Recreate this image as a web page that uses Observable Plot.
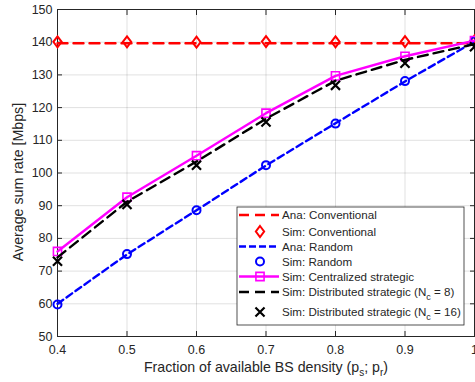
<!DOCTYPE html>
<html>
<head>
<meta charset="utf-8">
<script src="https://cdn.jsdelivr.net/npm/d3@7"></script>
<script src="https://cdn.jsdelivr.net/npm/@observablehq/plot@0.6"></script>
<style>
  html, body { margin: 0; padding: 0; background: #fff; }
  #chart svg { display: block; }
</style>
</head>
<body>
<div id="chart"></div>
<script>
// ---- data ----
const fraction = [0.4, 0.5, 0.6, 0.7, 0.8, 0.9, 1.0];
const anaConventional = [139.7, 139.7, 139.7, 139.7, 139.7, 139.7, 139.7];
const simConventional = [140.1, 140.1, 140.0, 140.2, 140.1, 140.2, 140.4];
const anaRandom = [60.0, 75.1, 88.6, 102.3, 115.2, 128.0, 140.2];
const simRandom = [59.8, 75.2, 88.6, 102.4, 115.1, 128.1, 140.3];
const simCentralized = [76.0, 92.6, 105.3, 118.3, 129.7, 135.7, 140.5];
const simDistributed8 = [74.2, 91.2, 103.5, 116.6, 128.2, 134.6, 139.4];
const simDistributed16 = [73.0, 90.4, 102.4, 115.6, 126.8, 133.6, 138.6];

const xTicks = [0.4, 0.5, 0.6, 0.7, 0.8, 0.9, 1];
const yTicks = [50, 60, 70, 80, 90, 100, 110, 120, 130, 140, 150];
const legendLabels = [
  ["Ana: Conventional"],
  ["Sim: Conventional"],
  ["Ana: Random"],
  ["Sim: Random"],
  ["Sim: Centralized strategic"],
  ["Sim: Distributed strategic (N", "c", " = 8)"],
  ["Sim: Distributed strategic (N", "c", " = 16)"]
];

const tbl = (ys) => fraction.map((x, i) => ({x, y: ys[i]}));

// MATLAB-like diamond (slightly taller than wide)
const diamondM = {
  draw(ctx, size) {
    const h = Math.sqrt(size / 0.375) / 2;
    const w = h * 0.75;
    ctx.moveTo(0, -h); ctx.lineTo(w, 0); ctx.lineTo(0, h); ctx.lineTo(-w, 0); ctx.closePath();
  }
};

const RED = "#ff0000", BLUE = "#0000ff", MAG = "#ff00ff", BLK = "#000000", AX = "#262626";
const FONT = "'Liberation Sans', Arial, Helvetica, sans-serif";

const plot = Plot.plot({
  width: 475,
  height: 382,
  marginLeft: 57,
  marginRight: 1,
  marginTop: 9,
  marginBottom: 46,
  style: {fontFamily: FONT, fontSize: "12.5px", color: AX, background: "#fff"},
  x: {domain: [0.4, 1]},
  y: {domain: [50, 150]},
  marks: [
    Plot.gridX(xTicks, {stroke: "#000", strokeOpacity: 0.12}),
    Plot.gridY(yTicks, {stroke: "#000", strokeOpacity: 0.12}),
    Plot.axisX(xTicks, {tickSize: -5, tickPadding: 13.5, tickFormat: d => String(d), label: null, fontSize: 12.5, stroke: AX}),
    Plot.axisX(xTicks, {anchor: "top", tickSize: -5, tickFormat: () => "", label: null, stroke: AX}),
    Plot.axisY(yTicks, {tickSize: -5, tickPadding: 10, label: null, fontSize: 12.5, stroke: AX}),
    Plot.axisY(yTicks, {anchor: "right", tickSize: -5, tickFormat: () => "", label: null, stroke: AX}),
    Plot.frame({stroke: AX, strokeWidth: 1}),
    // Ana: Conventional
    Plot.line(tbl(anaConventional), {x: "x", y: "y", stroke: RED, strokeWidth: 2.4, strokeDasharray: "10,6"}),
    // Sim: Conventional
    Plot.dot(tbl(simConventional), {x: "x", y: "y", symbol: diamondM, r: 3.8, stroke: RED, strokeWidth: 2, fill: "none"}),
    // Ana: Random
    Plot.line(tbl(anaRandom), {x: "x", y: "y", stroke: BLUE, strokeWidth: 2.4, strokeDasharray: "7,4"}),
    // Sim: Random
    Plot.dot(tbl(simRandom), {x: "x", y: "y", symbol: "circle", r: 4, stroke: BLUE, strokeWidth: 2, fill: "none"}),
    // Sim: Centralized strategic
    Plot.line(tbl(simCentralized), {x: "x", y: "y", stroke: MAG, strokeWidth: 2.4}),
    Plot.dot(tbl(simCentralized), {x: "x", y: "y", symbol: "square", r: 4.6, stroke: MAG, strokeWidth: 1.6, fill: "none"}),
    // Sim: Distributed strategic (Nc = 8)
    Plot.line(tbl(simDistributed8), {x: "x", y: "y", stroke: BLK, strokeWidth: 2.4, strokeDasharray: "10,6"}),
    // Sim: Distributed strategic (Nc = 16)
    Plot.dot(tbl(simDistributed16), {x: "x", y: "y", symbol: "times", r: 4.2, stroke: BLK, strokeWidth: 2.2})
  ]
});

document.getElementById("chart").appendChild(plot);

// ---- axis labels with subscripts ----
const svg = d3.select(plot);
svg.append("text")
  .attr("transform", "translate(23,182) rotate(-90)")
  .attr("text-anchor", "middle")
  .attr("font-family", FONT).attr("font-size", 14.2).attr("fill", AX)
  .text("Average sum rate [Mbps]");

const xl = svg.append("text")
  .attr("x", 266).attr("y", 372)
  .attr("text-anchor", "middle")
  .attr("font-family", FONT).attr("font-size", 14.2).attr("fill", AX);
xl.append("tspan").text("Fraction of available BS density (p");
xl.append("tspan").attr("font-size", 10).attr("dy", 4).text("s");
xl.append("tspan").attr("dy", -4).text("; p");
xl.append("tspan").attr("font-size", 10).attr("dy", 4).text("r");
xl.append("tspan").attr("dy", -4).text(")");

// ---- legend ----
const lg = svg.append("g").attr("text-anchor", "start");
lg.append("rect").attr("x", 237).attr("y", 207).attr("width", 227).attr("height", 118)
  .attr("fill", "#fff").attr("stroke", AX).attr("stroke-width", 0.8);
const rowsY = [215, 231.5, 246.5, 261.5, 276.5, 292, 312];
const lx1 = 239, lx2 = 279, sx = 260, tx = 282;
const sym = (type, r) => d3.symbol().type(type).size(Math.PI * r * r)();
rowsY.forEach((y, i) => {
  const g = lg.append("g");
  if (i === 0) g.append("line").attr("x1", lx1).attr("x2", lx2).attr("y1", y).attr("y2", y)
    .attr("stroke", RED).attr("stroke-width", 2.4).attr("stroke-dasharray", "10,6");
  if (i === 1) g.append("path").attr("d", sym(diamondM, 3.8)).attr("transform", `translate(${sx},${y})`)
    .attr("stroke", RED).attr("stroke-width", 2).attr("fill", "none");
  if (i === 2) g.append("line").attr("x1", lx1).attr("x2", lx2).attr("y1", y).attr("y2", y)
    .attr("stroke", BLUE).attr("stroke-width", 2.4).attr("stroke-dasharray", "7,3");
  if (i === 3) g.append("path").attr("d", sym(d3.symbolCircle, 4)).attr("transform", `translate(${sx},${y})`)
    .attr("stroke", BLUE).attr("stroke-width", 2).attr("fill", "none");
  if (i === 4) {
    g.append("line").attr("x1", lx1).attr("x2", lx2).attr("y1", y).attr("y2", y)
      .attr("stroke", MAG).attr("stroke-width", 2.4);
    g.append("path").attr("d", sym(d3.symbolSquare, 4.6)).attr("transform", `translate(${sx},${y})`)
      .attr("stroke", MAG).attr("stroke-width", 1.6).attr("fill", "none");
  }
  if (i === 5) g.append("line").attr("x1", lx1).attr("x2", lx2).attr("y1", y).attr("y2", y)
    .attr("stroke", BLK).attr("stroke-width", 2.4).attr("stroke-dasharray", "10,6");
  if (i === 6) g.append("path").attr("d", sym(d3.symbolTimes, 4.2)).attr("transform", `translate(${sx},${y})`)
    .attr("stroke", BLK).attr("stroke-width", 2.2).attr("fill", "none");
  const t = g.append("text").attr("x", tx).attr("y", y).attr("dy", "0.35em")
    .attr("text-anchor", "start")
    .attr("font-family", FONT).attr("font-size", 11.6).attr("fill", AX);
  const parts = legendLabels[i];
  t.append("tspan").text(parts[0]);
  if (parts.length > 1) {
    t.append("tspan").attr("font-size", 9).attr("dy", 4).text(parts[1]);
    t.append("tspan").attr("dy", -4).text(parts[2]);
  }
});
</script>
</body>
</html>
